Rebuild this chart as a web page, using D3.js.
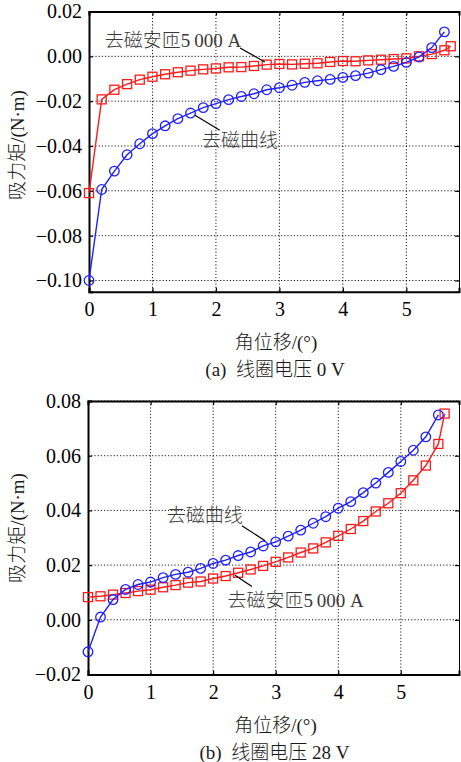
<!DOCTYPE html>
<html>
<head>
<meta charset="utf-8">
<script src="https://cdn.jsdelivr.net/npm/d3@7"></script>
<style>
  body { margin: 0; background: #fff; }
  svg { display: block; font-family: "Liberation Serif", "Noto Sans CJK SC", serif; }
  .grid line { stroke: #000; stroke-width: 0.9; stroke-dasharray: 1.2,2; }
  .note { fill: #3a3a3a; font-weight: 300; }
  .title { fill: #1a1a1a; font-weight: 300; }
</style>
</head>
<body>
<svg width="461" height="762"></svg>
<script>
// angle (deg) of each sample
const angleBlue = [0, 0.2, 0.4, 0.6, 0.8, 1.0, 1.2, 1.4, 1.6, 1.8, 2.0, 2.2, 2.4, 2.6, 2.8,
  3.0, 3.2, 3.4, 3.6, 3.8, 4.0, 4.2, 4.4, 4.6, 4.8, 5.0, 5.2, 5.4, 5.6]
const angleRed = [0, 0.2, 0.4, 0.6, 0.8, 1.0, 1.2, 1.4, 1.6, 1.8, 2.0, 2.2, 2.4, 2.6, 2.8,
  3.0, 3.2, 3.4, 3.6, 3.8, 4.0, 4.2, 4.4, 4.6, 4.8, 5.0, 5.2, 5.4, 5.6, 5.7]

// (a) coil voltage 0 V
const demagA = [-0.100, -0.0594, -0.0512, -0.0439, -0.0390, -0.0345, -0.0310, -0.0278, -0.0253,
  -0.0229, -0.0211, -0.0193, -0.0179, -0.0167, -0.0149, -0.0140, -0.0129, -0.0116, -0.0109,
  -0.0103, -0.0094, -0.0086, -0.0075, -0.0059, -0.0045, -0.0027, -0.0003, 0.0039, 0.0109]
const ampTurnA = [-0.061, -0.0192, -0.0149, -0.0124, -0.0104, -0.0091, -0.0080, -0.0071, -0.0064,
  -0.0058, -0.0054, -0.0049, -0.0048, -0.0043, -0.0037, -0.0034, -0.0036, -0.0033, -0.0031,
  -0.0025, -0.0021, -0.0022, -0.0018, -0.0015, -0.0012, -0.0009, 0.0000, 0.0010, 0.0027, 0.0045]

// (b) coil voltage 28 V
const demagB = [-0.0117, 0.0010, 0.0074, 0.0111, 0.0129, 0.0138, 0.0154, 0.0166, 0.0174,
  0.0188, 0.0206, 0.0218, 0.0235, 0.0248, 0.0270, 0.0285, 0.0306, 0.0328, 0.0353, 0.0377,
  0.0408, 0.0432, 0.0465, 0.0500, 0.0539, 0.0579, 0.0620, 0.0669, 0.0749]
const ampTurnB = [0.0083, 0.0086, 0.0092, 0.0098, 0.0105, 0.0110, 0.0119, 0.0127, 0.0136,
  0.0140, 0.0151, 0.0160, 0.0172, 0.0184, 0.0197, 0.0212, 0.0228, 0.0246, 0.0261, 0.0283,
  0.0307, 0.0332, 0.0361, 0.0396, 0.0426, 0.0463, 0.0510, 0.0564, 0.0643, 0.0754]

const xTicks = [0, 1, 2, 3, 4, 5]
const yTicksA = [-0.10, -0.08, -0.06, -0.04, -0.02, 0.00, 0.02]
const yTicksB = [-0.02, 0.00, 0.02, 0.04, 0.06, 0.08]

const yTitle = "吸力矩/(N·m)"
const xTitle = "角位移/(°)"
const captions = ["(a)  线圈电压 0 V", "(b)  线圈电压 28 V"]
const labelDemag = "去磁曲线"
const labelAmp = "去磁安匝5\u2009000 A"

const blue = "#1f1fff"
const red = "#ff1a1a"

const svg = d3.select("svg")

drawPanel({
  left: 89, right: 459, top: 11.5, bottom: 291.7,
  xMax: 5.83, yDomain: [-0.105, 0.02], yTicks: yTicksA,
  blueVals: demagA, redVals: ampTurnA, caption: captions[0],
  yTitleY: 145,
  // annotation anchors in data units: [text x, text y, line x1, y1, x2, y2]
  ampNote: [0.25, 0.0071, 2.38, 0.0037, 2.77, -0.0025],
  demagNote: [1.78, -0.0375, 1.67, -0.0263, 2.06, -0.033]
})

drawPanel({
  left: 88, right: 459, top: 401, bottom: 674.5,
  xMax: 5.93, yDomain: [-0.02, 0.08], yTicks: yTicksB,
  blueVals: demagB, redVals: ampTurnB, caption: captions[1],
  yTitleY: 528,
  ampNote: [2.23, 0.0071, 2.35, 0.0163, 2.62, 0.0122],
  demagNote: [1.26, 0.0383, 2.46, 0.0344, 2.83, 0.0289]
})

function drawPanel(p) {
  const x = d3.scaleLinear().domain([0, p.xMax]).range([p.left, p.right])
  const y = d3.scaleLinear().domain(p.yDomain).range([p.bottom, p.top])
  const g = svg.append("g")

  // dotted grid
  const grid = g.append("g").attr("class", "grid")
  grid.selectAll("line.v")
    .data(xTicks.filter(d => d > 0))
    .enter()
    .append("line")
    .attr("x1", d => x(d)).attr("x2", d => x(d))
    .attr("y1", p.top).attr("y2", p.bottom)
  grid.selectAll("line.h")
    .data(p.yTicks)
    .enter()
    .append("line")
    .attr("x1", p.left).attr("x2", p.right)
    .attr("y1", d => y(d)).attr("y2", d => y(d))

  // axes, ticks pointing inward
  const fmt = d3.format(".2f")
  const xAxis = g.append("g")
    .attr("transform", `translate(0,${p.bottom})`)
    .call(d3.axisBottom(x).tickValues(xTicks).tickSize(-4).tickPadding(10).tickFormat(d3.format("d")))
  const yAxis = g.append("g")
    .attr("transform", `translate(${p.left},0)`)
    .call(d3.axisLeft(y).tickValues(p.yTicks).tickSize(-4).tickPadding(7).tickFormat(fmt))
  const yAxisR = g.append("g")
    .attr("transform", `translate(${p.right},0)`)
    .call(d3.axisRight(y).tickValues(p.yTicks).tickSize(-4).tickFormat(""))
  const xAxisT = g.append("g")
    .attr("transform", `translate(0,${p.top})`)
    .call(d3.axisTop(x).tickValues(xTicks).tickSize(-4).tickFormat(""))

  ;[xAxis, yAxis, yAxisR, xAxisT].forEach(a => {
    a.select(".domain").attr("stroke", "#000").attr("stroke-width", 2)
    a.selectAll(".tick line").attr("stroke", "#000").attr("stroke-width", 1.2)
    a.selectAll("text")
      .attr("fill", "#000")
      .style("font-size", "20px")
      .style("font-family", "'Liberation Serif', serif")
  })
  yAxisR.select(".domain").attr("stroke-width", 1)

  // series
  const line = d3.line()
  const blueData = p.blueVals.map((v, i) => [x(angleBlue[i]), y(v)])
  const redData = p.redVals.map((v, i) => [x(angleRed[i]), y(v)])

  g.append("path")
    .attr("d", line(redData))
    .attr("fill", "none").attr("stroke", red).attr("stroke-width", 1.4)
  g.selectAll("rect.mk")
    .data(redData)
    .enter()
    .append("rect")
    .attr("x", d => d[0] - 4.5).attr("y", d => d[1] - 4.5)
    .attr("width", 9).attr("height", 9)
    .attr("fill", "none").attr("stroke", red).attr("stroke-width", 1.3)

  g.append("path")
    .attr("d", line(blueData))
    .attr("fill", "none").attr("stroke", blue).attr("stroke-width", 1.4)
  g.selectAll("circle.mk")
    .data(blueData)
    .enter()
    .append("circle")
    .attr("cx", d => d[0]).attr("cy", d => d[1])
    .attr("r", 4.8)
    .attr("fill", "none").attr("stroke", blue).attr("stroke-width", 1.3)

  // annotations
  ;[[p.ampNote, labelAmp], [p.demagNote, labelDemag]].forEach(([n, label]) => {
    g.append("text")
      .attr("class", "note")
      .attr("x", x(n[0])).attr("y", y(n[1]))
      .attr("dominant-baseline", "central")
      .style("font-size", "19px")
      .text(label)
    g.append("line")
      .attr("x1", x(n[2])).attr("y1", y(n[3]))
      .attr("x2", x(n[4])).attr("y2", y(n[5]))
      .attr("stroke", "#000").attr("stroke-width", 1.2)
  })

  // titles
  const cx = (p.left + p.right) / 2
  g.append("text")
    .attr("class", "title")
    .attr("x", cx + 2).attr("y", p.bottom + 51)
    .attr("text-anchor", "middle").attr("dominant-baseline", "central")
    .style("font-size", "19px")
    .text(xTitle)
  g.append("text")
    .attr("class", "title")
    .attr("x", cx + 1).attr("y", p.bottom + 78)
    .attr("text-anchor", "middle").attr("dominant-baseline", "central")
    .style("font-size", "19px").style("white-space", "pre")
    .text(p.caption)
  g.append("text")
    .attr("class", "title")
    .attr("transform", `translate(17,${p.yTitleY}) rotate(-90)`)
    .attr("text-anchor", "middle").attr("dominant-baseline", "central")
    .style("font-size", "19px")
    .text(yTitle)
}
</script>
</body>
</html>
